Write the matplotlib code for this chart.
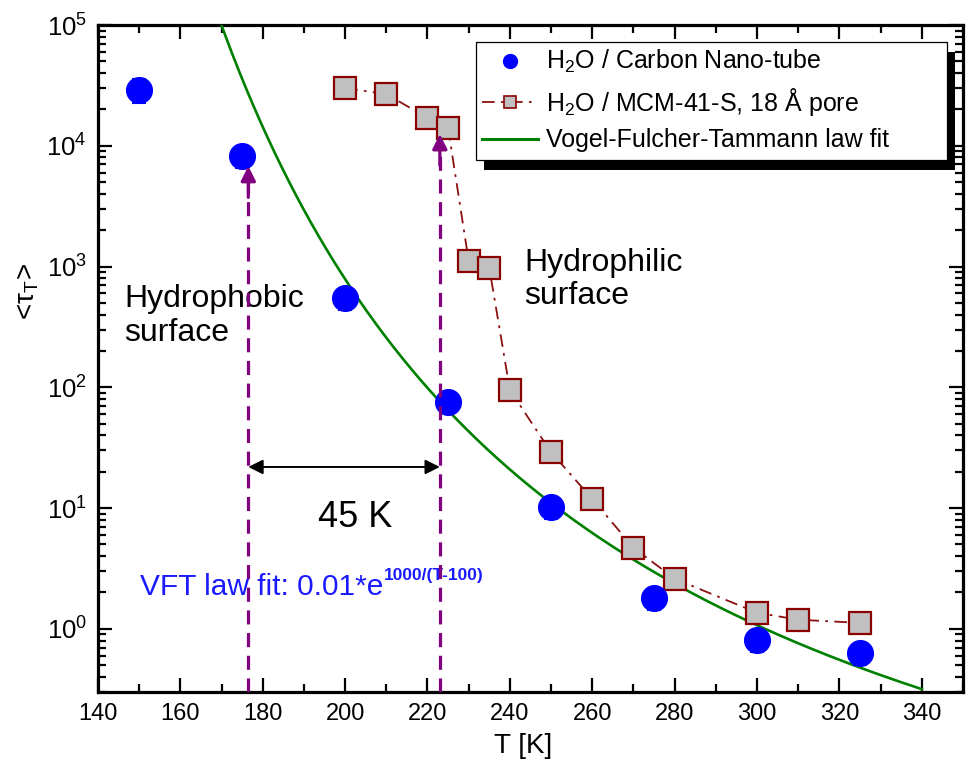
import numpy as np
import matplotlib
matplotlib.use("Agg")
import matplotlib.pyplot as plt
from matplotlib.patches import Rectangle
from matplotlib.lines import Line2D
from matplotlib.ticker import (LogLocator, LogFormatterSciNotation,
                               MultipleLocator, NullFormatter)

plt.rcParams['font.family'] = ['Liberation Sans', 'DejaVu Sans']
plt.rcParams['mathtext.fontset'] = 'custom'
plt.rcParams['mathtext.rm'] = 'Liberation Sans'
plt.rcParams['mathtext.it'] = 'Liberation Sans:italic'
plt.rcParams['mathtext.bf'] = 'Liberation Sans:bold'

# water confined in carbon nanotubes
t_cnt = [150, 175, 200, 225, 250, 275, 300, 325]
tau_cnt = [29000, 8200, 550, 76, 10.2, 1.81, 0.81, 0.63]
err_cnt = [6400, 1700, 110, 15, 2.1, 0.38, 0.17, 0.13]

# water confined in MCM-41-S (18 Å pores)
t_mcm = [200, 210, 220, 225, 230, 235, 240, 250, 260, 270, 280, 300, 310, 325]
tau_mcm = [30000, 26800, 17000, 14000, 1110, 975, 95, 29, 11.9, 4.7, 2.6,
           1.36, 1.19, 1.12]

# Vogel-Fulcher-Tammann fit: tau = A * exp(B / (T - T0))
vft_a = 3.9e-4
vft_b = 1742.0
vft_t0 = 80.0
vft_range = (166, 340)

# markers for the dynamic crossover
t_cross_phobic = 176.5
t_cross_philic = 223.0
tip_phobic = 6800
tip_philic = 12500
gap_level = 21.9

fig = plt.figure(figsize=(9.66, 7.67), dpi=100)
ax = fig.add_axes([0.1014, 0.0978, 0.8955, 0.8696])

t_fit = np.linspace(vft_range[0], vft_range[1], 400)
tau_fit = vft_a * np.exp(vft_b / (t_fit - vft_t0))
ax.plot(t_fit, tau_fit, color='#008000', lw=1.9, zorder=3)

ax.errorbar(t_cnt, tau_cnt, yerr=err_cnt, fmt='o', color='#0000ff',
            ms=18.5, mec='#0000ff', ecolor='#0000ff', elinewidth=1.2,
            capsize=5, capthick=1.5, zorder=4)

mcm_ls = (0, (7, 3.5, 1.5, 3.5))
ax.plot(t_mcm, tau_mcm, color='#8b1010', lw=1.3, ls=mcm_ls,
        marker='s', ms=15.5, mfc='#c0c0c0', mec='#8b0000', mew=1.6,
        zorder=4)

# crossover arrows
purple = '#800080'
for tc, tip in ((t_cross_phobic, tip_phobic), (t_cross_philic, tip_philic)):
    ax.plot([tc, tc], [0.3, tip * 0.75], color=purple, lw=2.3,
            ls=(0, (4.4, 2.7)), zorder=5)
    ax.annotate('', xy=(tc, tip), xytext=(tc, tip * 0.55),
                arrowprops=dict(arrowstyle='-|>', color=purple, lw=2.3,
                                mutation_scale=22, shrinkA=0, shrinkB=0),
                zorder=5)

ax.annotate('', xy=(t_cross_philic, gap_level),
            xytext=(t_cross_phobic, gap_level),
            arrowprops=dict(arrowstyle='<|-|>', color='black', lw=1.4,
                            mutation_scale=22, shrinkA=0, shrinkB=0))
ax.text(202.5, 8.4, '45 K', fontsize=26, ha='center', va='center')

ax.text(146.3, 390, 'Hydrophobic\nsurface', fontsize=23, ha='left',
        va='center', linespacing=1.15)
ax.text(243.5, 780, 'Hydrophilic\nsurface', fontsize=23, ha='left',
        va='center', linespacing=1.15)

vft_txt = ax.text(150.3, 1.9, 'VFT law fit: 0.01*e', fontsize=21.5,
                  color='#1a1aff', ha='left', va='baseline')
ax.annotate('1000/(T-100)', xy=(1, 1), xycoords=vft_txt,
            xytext=(0, -1.5), textcoords='offset points',
            fontsize=12.5, fontweight='bold', color='#1a1aff',
            ha='left', va='center')

ax.set_yscale('log')
ax.set_xlim(140, 350)
ax.set_ylim(0.3, 1e5)

ax.xaxis.set_major_locator(MultipleLocator(20))
ax.xaxis.set_minor_locator(MultipleLocator(10))
ax.yaxis.set_major_locator(LogLocator(base=10, numticks=12))
ax.yaxis.set_minor_locator(LogLocator(base=10, subs=np.arange(2, 10),
                                      numticks=12))
ax.yaxis.set_major_formatter(LogFormatterSciNotation())
ax.yaxis.set_minor_formatter(NullFormatter())

ax.tick_params(which='both', direction='in', top=True, right=True,
               width=1.6)
ax.tick_params(axis='x', labelsize=17, pad=8)
ax.tick_params(axis='y', labelsize=18.5, pad=8)
ax.tick_params(which='major', length=10)
ax.tick_params(which='minor', length=5.5)
for sp in ax.spines.values():
    sp.set_linewidth(2.3)

ax.set_xlabel('T [K]', fontsize=20)
ax.xaxis.set_label_coords(0.491, -0.061)
ax.set_ylabel('<τ$_\\mathrm{T}$>', fontsize=20)
ax.yaxis.set_label_coords(-0.066, 0.60)

# legend box with an offset drop shadow
box_x0, box_x1 = 0.437, 0.9815
box_y0, box_y1 = 0.7976, 0.9745
box_w, box_h = box_x1 - box_x0, box_y1 - box_y0
shadow = Rectangle((box_x0, box_y0), box_w, box_h, transform=ax.transAxes,
                   facecolor='black', edgecolor='none', zorder=8,
                   clip_on=False)
from matplotlib.transforms import offset_copy
shadow.set_transform(offset_copy(ax.transAxes, fig=fig, x=8, y=-10,
                                 units='dots'))
ax.add_artist(shadow)
frame = Rectangle((box_x0, box_y0), box_w, box_h, transform=ax.transAxes,
                  facecolor='white', edgecolor='black', lw=0.9, zorder=9,
                  clip_on=False)
ax.add_artist(frame)

handles = [
    Line2D([], [], ls='none', marker='o', color='#0000ff', ms=10),
    Line2D([], [], color='#8b1010', lw=1.3, ls=mcm_ls,
           marker='s', ms=8, mfc='#c0c0c0', mec='#8b0000', mew=1.2),
    Line2D([], [], color='#008000', lw=2.2),
]
labels = ['H$_2$O / Carbon Nano-tube',
          'H$_2$O / MCM-41-S, 18 Å pore',
          'Vogel-Fulcher-Tammann law fit']
leg = ax.legend(handles, labels, loc='upper left',
                bbox_to_anchor=(box_x0, box_y1), borderaxespad=0,
                fontsize=18, frameon=False, handlelength=2.25,
                handletextpad=0.3, labelspacing=0.42, borderpad=0.25)
leg.set_zorder(10)

fig.savefig('out.png', dpi=100)
